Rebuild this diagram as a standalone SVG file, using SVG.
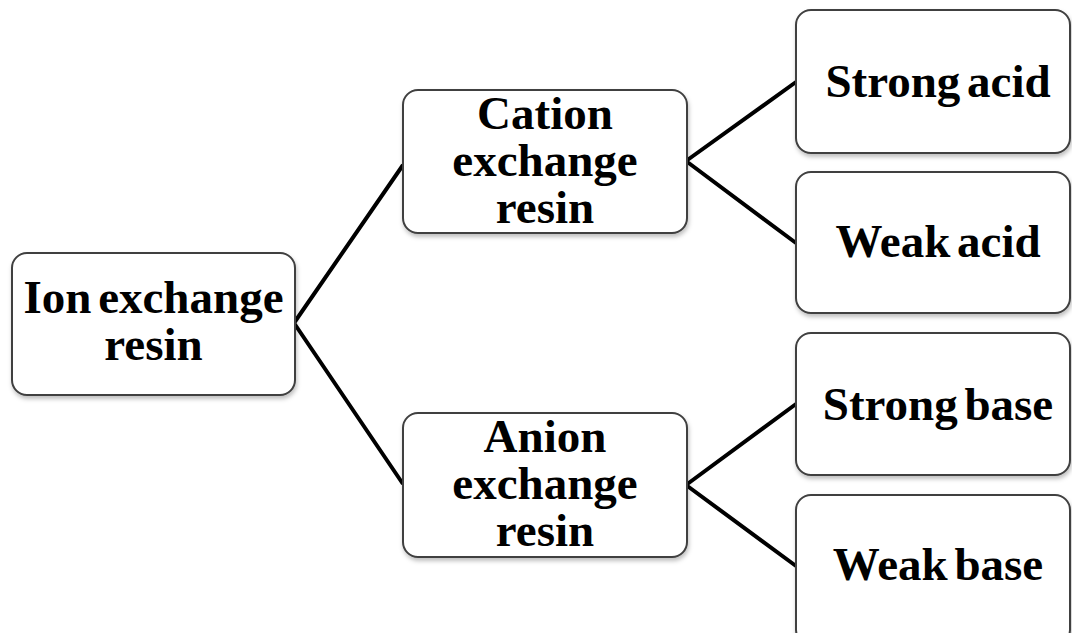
<svg xmlns="http://www.w3.org/2000/svg" width="1072" height="633" viewBox="0 0 1072 633">
<defs>
<filter id="sh" x="-10%" y="-10%" width="120%" height="130%">
<feDropShadow dx="1" dy="3" stdDeviation="2" flood-color="#000" flood-opacity="0.25"/>
</filter>
</defs>
<style>
.box{fill:#fff;stroke:#404040;stroke-width:2;filter:url(#sh)}
.t{font-family:"Liberation Serif","Times New Roman",serif;font-weight:bold;font-size:47px;fill:#000;text-anchor:middle;word-spacing:-5px}
.c{stroke:#000;stroke-width:4;fill:none}
</style>
<rect width="1072" height="633" fill="#fff"/>
<g id="connectors">
<path class="c" d="M294,323 L403,165 M294,323 L403,484"/>
<path class="c" d="M686,161 L796,82 M686,161 L796,243"/>
<path class="c" d="M686,485 L796,404 M686,485 L796,566"/>
</g>
<g id="root">
<rect class="box" x="12" y="253" width="283" height="142" rx="15"/>
<text class="t" x="153.5" y="313">Ion exchange</text>
<text class="t" x="153.5" y="360">resin</text>
</g>
<g id="cation">
<rect class="box" x="403" y="90" width="284" height="143" rx="15"/>
<text class="t" x="545" y="129">Cation</text>
<text class="t" x="545" y="176">exchange</text>
<text class="t" x="545" y="223">resin</text>
</g>
<g id="anion">
<rect class="box" x="403" y="413" width="284" height="144" rx="15"/>
<text class="t" x="545" y="452">Anion</text>
<text class="t" x="545" y="499">exchange</text>
<text class="t" x="545" y="546">resin</text>
</g>
<g id="strong-acid">
<rect class="box" x="796" y="10" width="274" height="143" rx="15"/>
<text class="t" x="938" y="97">Strong acid</text>
</g>
<g id="weak-acid">
<rect class="box" x="796" y="172" width="274" height="141" rx="15"/>
<text class="t" x="938" y="257">Weak acid</text>
</g>
<g id="strong-base">
<rect class="box" x="796" y="333" width="274" height="142" rx="15"/>
<text class="t" x="938" y="420">Strong base</text>
</g>
<g id="weak-base">
<rect class="box" x="796" y="495" width="274" height="150" rx="15"/>
<text class="t" x="938" y="580">Weak base</text>
</g>
</svg>
